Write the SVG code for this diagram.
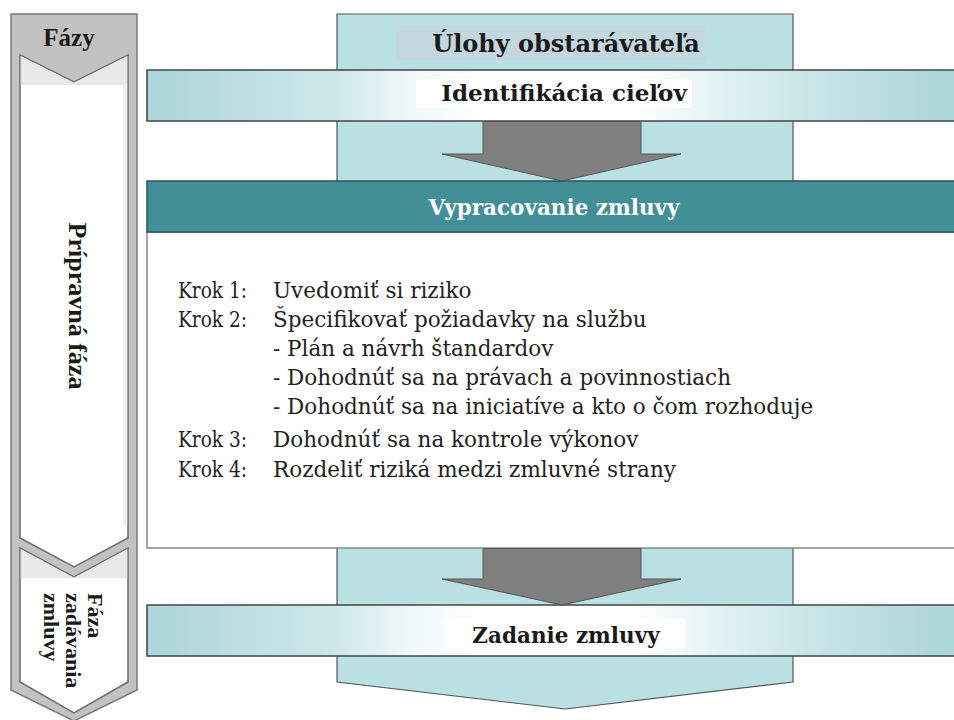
<svg xmlns="http://www.w3.org/2000/svg" width="954" height="720" viewBox="0 0 954 720">
  <defs>
    <linearGradient id="bandGrad" gradientUnits="userSpaceOnUse" x1="147" y1="0" x2="954" y2="0">
      <stop offset="0" stop-color="#abd6da"/>
      <stop offset="0.23" stop-color="#cde7ea"/>
      <stop offset="0.33" stop-color="#f0f9f9"/>
      <stop offset="0.42" stop-color="#ffffff"/>
      <stop offset="0.6" stop-color="#ffffff"/>
      <stop offset="0.72" stop-color="#e0f1f2"/>
      <stop offset="0.82" stop-color="#c9e5e8"/>
      <stop offset="1" stop-color="#abd6da"/>
    </linearGradient>
    <style>
      .hdr { font-weight: bold; font-size: 22px; fill: #1a1a1a; text-anchor: middle; }
      .side { font-weight: bold; fill: #1a1a1a; }
      .body { font-size: 21.5px; fill: #222; }
      .band { fill: url(#bandGrad); stroke: #444; stroke-width: 1.5; }
      .arrow { fill: #808080; stroke: #555; stroke-width: 1; }
      .sect { fill: #ffffff; stroke: #6e6e6e; stroke-width: 1.5; }
      .lg { fill: #e8e8e8; }
    </style>
  </defs>

  <!-- Left phases column -->
  <g id="phases" font-family="Liberation Serif, DejaVu Serif, serif">
    <polygon points="11,14 137,14 137,690 74,721 11,690" fill="#c2c2c2" stroke="#7a7a7a" stroke-width="1.5"/>
    <text class="side" x="69" y="46" font-size="25" text-anchor="middle">Fázy</text>
  </g>
  <g id="phase-prep" font-family="Liberation Serif, DejaVu Serif, serif">
    <polygon class="sect" points="20,55 74,82 128,55 128,538 74,567 20,538"/>
    <polygon class="lg" points="20.8,56 74,82.8 127.2,56 127.2,85 20.8,85"/>
    <rect x="123" y="85" width="4.2" height="440" fill="#efefef"/>
    <text class="side" font-size="26" text-anchor="middle" transform="translate(69,306) rotate(90)">Prípravná fáza</text>
  </g>
  <g id="phase-award" font-family="Liberation Serif, DejaVu Serif, serif">
    <polygon class="sect" points="20,548 74,577 128,548 128,682 74,713 20,682"/>
    <polygon class="lg" points="20.8,549 74,577.8 127.2,549 127.2,578 20.8,578"/>
    <text class="side" font-size="22" transform="translate(88,593) rotate(90)">Fáza</text>
    <text class="side" font-size="22" transform="translate(66,593) rotate(90)">zadávania</text>
    <text class="side" font-size="22" transform="translate(44,593) rotate(90)">zmluvy</text>
  </g>

  <!-- Central column -->
  <g id="tasks-column" font-family="DejaVu Serif, serif">
    <polygon points="337,14 793,14 793,682 565,709 337,682" fill="#b9e0e3" stroke="#555" stroke-width="1.2"/>
    <rect x="396" y="25" width="310" height="35" fill="#c3d8de"/>
    <text class="hdr" x="566" y="52" style="font-size:24px">Úlohy obstarávateľa</text>
  </g>

  <g id="identification" font-family="DejaVu Serif, serif">
    <rect class="band" x="147" y="70" width="820" height="51"/>
    <rect x="416" y="79" width="276" height="29" fill="#ffffff"/>
    <text class="hdr" x="564" y="101" style="font-size:23px">Identifikácia cieľov</text>
  </g>

  <g id="contract-drafting" font-family="DejaVu Serif, serif">
    <rect x="147" y="232" width="820" height="316" fill="#ffffff" stroke="#888" stroke-width="1.5"/>
    <rect x="147" y="181" width="820" height="51" fill="#428f98" stroke="#2c5357" stroke-width="1.5"/>
    <text class="hdr" x="554" y="215" style="fill:#ffffff;font-size:21.5px">Vypracovanie zmluvy</text>
    <text class="body" x="178" y="298" textLength="69" lengthAdjust="spacingAndGlyphs">Krok 1:</text>
    <text class="body" x="273" y="298">Uvedomiť si riziko</text>
    <text class="body" x="178" y="327" textLength="69" lengthAdjust="spacingAndGlyphs">Krok 2:</text>
    <text class="body" x="273" y="327">Špecifikovať požiadavky na službu</text>
    <text class="body" x="273" y="356">- Plán a návrh štandardov</text>
    <text class="body" x="273" y="385">- Dohodnúť sa na právach a povinnostiach</text>
    <text class="body" x="273" y="414">- Dohodnúť sa na iniciatíve a kto o čom rozhoduje</text>
    <text class="body" x="178" y="447" textLength="69" lengthAdjust="spacingAndGlyphs">Krok 3:</text>
    <text class="body" x="273" y="447">Dohodnúť sa na kontrole výkonov</text>
    <text class="body" x="178" y="477" textLength="69" lengthAdjust="spacingAndGlyphs">Krok 4:</text>
    <text class="body" x="273" y="477">Rozdeliť riziká medzi zmluvné strany</text>
  </g>

  <g id="contract-award" font-family="DejaVu Serif, serif">
    <rect class="band" x="147" y="605" width="820" height="51"/>
    <rect x="446" y="619" width="240" height="29" fill="#ffffff"/>
    <text class="hdr" x="566" y="643" style="font-size:21.5px">Zadanie zmluvy</text>
  </g>

  <!-- Connectors -->
  <g id="connectors">
    <polygon class="arrow" points="483,121.5 641,121.5 641,154 681,154 562,181 442,154 483,154"/>
    <polygon class="arrow" points="483,548.5 641,548.5 641,579 681,579 562,605 442,579 483,579"/>
  </g>
</svg>
